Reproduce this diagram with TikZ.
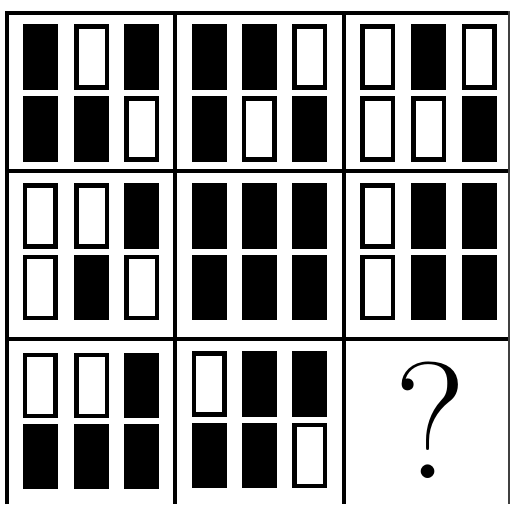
\documentclass[tikz,border=0pt]{standalone}
\usepackage{fontspec}
\tikzset{
  gridline/.style={line width=4pt, black},
  wbar/.style={draw=black, fill=white, line width=4.5pt},
  bbar/.style={fill=black},
}
\newcommand{\rbar}[3]{%
  \if#3B\fill[bbar] (#1,#2) rectangle ++(35,65.5);%
  \else\draw[wbar] (#1+2.25,#2+2.25) rectangle ++(30.5,61);\fi}
\begin{document}
\begin{tikzpicture}[x=1pt,y=-1pt]
\useasboundingbox (0,0) rectangle (511,504);
\fill[white] (0,0) rectangle (511,504);
\foreach \xa/\xb/\xc/\ya/\yb/\pa/\pb/\pc/\pd/\pe/\pf in {
  22.7/74/124.3/24/96/B/W/B/B/B/W,
  191.5/241.5/292/24/96/B/B/W/B/W/B,
  360/411/461.5/24/96/W/B/W/W/W/B,
  22.7/74/124.3/183.3/254.5/W/W/B/W/B/W,
  191.5/241.5/292/183.3/254.5/B/B/B/B/B/B,
  360/411/461.5/183.3/254.5/W/B/B/W/B/B,
  22.7/74/124.3/352.5/423.5/W/W/B/B/B/B,
  191.5/241.5/292/351/422.5/W/B/B/B/B/W}{
  \rbar{\xa}{\ya}{\pa}\rbar{\xb}{\ya}{\pb}\rbar{\xc}{\ya}{\pc}
  \rbar{\xa}{\yb}{\pd}\rbar{\xb}{\yb}{\pe}\rbar{\xc}{\yb}{\pf}
}
\draw[gridline] (6.5,504) -- (6.5,12.5) -- (508,12.5);
\draw[gridline] (6.5,170.5) -- (508,170.5);
\draw[gridline] (6.5,339) -- (508,339);
\draw[gridline] (174.5,12.5) -- (174.5,504);
\draw[gridline] (343.5,12.5) -- (343.5,504);
\draw[line width=2pt, black!75] (509,11) -- (509,504);
\node[font=\fontsize{166}{166}\selectfont\addfontfeatures{FakeBold=4.5}, anchor=base, inner sep=0pt] (q) at (430,478) {?};
\end{tikzpicture}
\end{document}
